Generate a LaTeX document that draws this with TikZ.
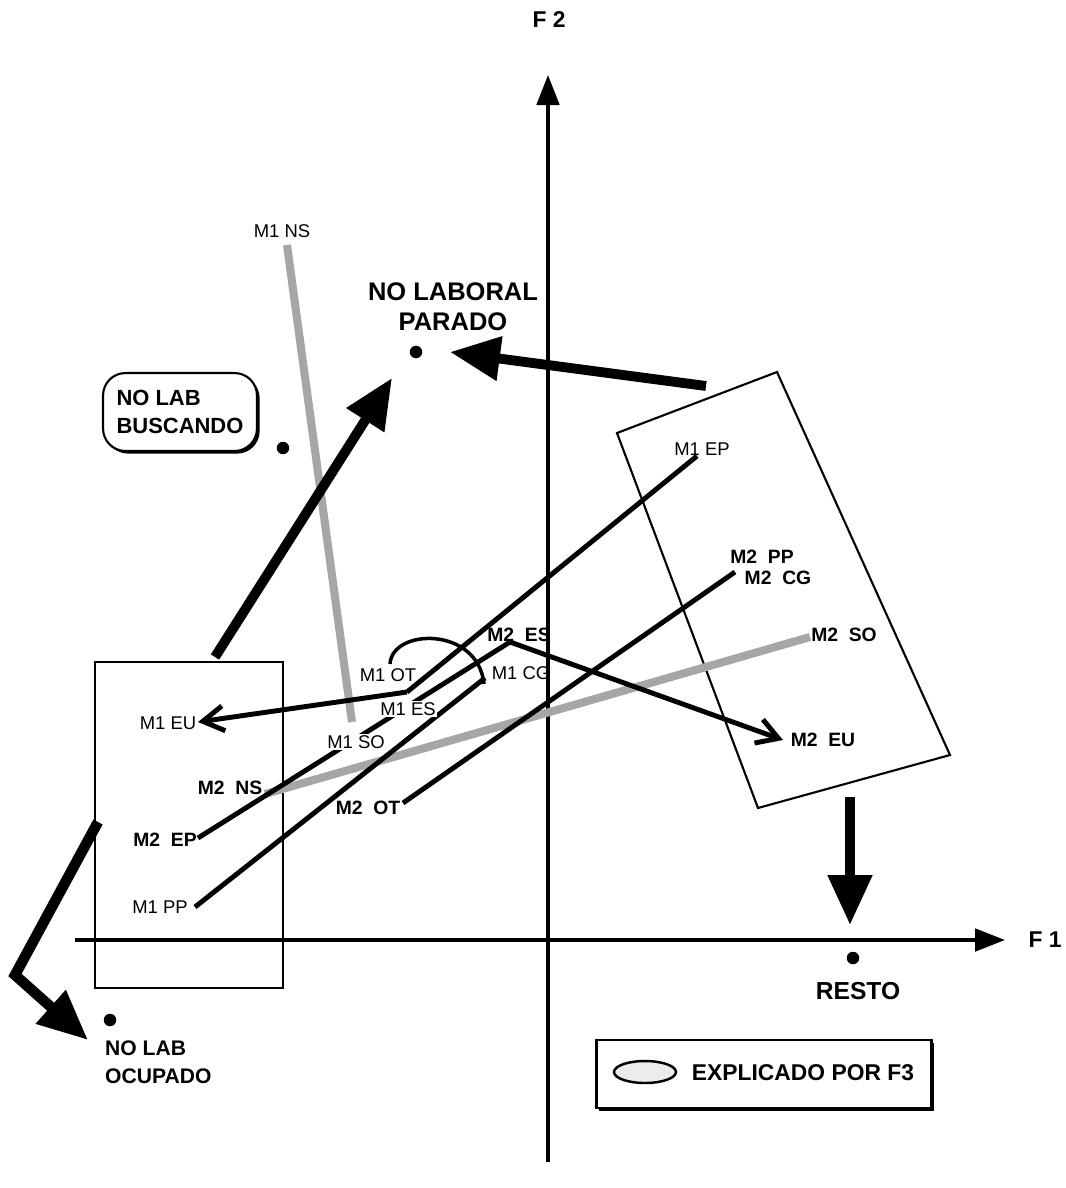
\documentclass[tikz,border=0pt]{standalone}
\usepackage{fontspec}
\setmainfont{Liberation Sans}
\usetikzlibrary{arrows.meta,shapes.geometric,shadows}

\tikzset{
  mlab/.style={font=\fontsize{10.5}{12}\selectfont, inner sep=1pt},
  mlabb/.style={font=\fontsize{11}{12}\selectfont\bfseries, inner sep=1pt},
  biglab/.style={font=\fontsize{14.5}{17}\selectfont\bfseries, align=center},
  smlab/.style={font=\fontsize{12.5}{16}\selectfont\bfseries, align=left},
  axlab/.style={font=\fontsize{13}{15}\selectfont\bfseries},
  dot/.style={circle, fill, inner sep=0pt, minimum size=0.25cm},
  trace/.style={line width=2.8pt},
  f3trace/.style={line width=4.6pt, gray!70},
  frame/.style={line width=1.2pt},
  move/.style={line width=5.6pt, -{Triangle[length=1cm,width=0.85cm]}},
  axis/.style={line width=2pt, -{Triangle[length=0.6cm,width=0.45cm]}},
  barb/.style={trace, -{Straight Barb[length=0.42cm,width=0.5cm]}}
}

\begin{document}
\begin{tikzpicture}[x=0.02cm,y=-0.02cm]
		\useasboundingbox (0,0) rectangle (1066,1188);
		
		% marcos
		\draw [frame] (95,662) rectangle (283,988);
		\draw [frame] (617,433) -- (777,372) -- (950,755) -- (758,808) -- cycle;
		
		% ejes
		\coordinate (Ob) at (548,1162);
		\coordinate (Ot) at (548,75);
		\coordinate (Ol) at (75,940);
		\coordinate (Or) at (1005,940);
		\draw [axis] (Ob) -- (Ot);
		\draw [axis] (Ol) -- (Or);
		\node (F2) at (549,20) [axlab] {F 2};
		\node (F1) at (1045,940) [axlab] {F 1};
		
		% puntos de las modalidades
		\coordinate (pNS1) at (287,245);
		\coordinate (pSO1) at (352,722);
		\coordinate (pEP1) at (697,456);
		\coordinate (pOT1) at (407,692);
		\coordinate (pEU1) at (198,722);
		\coordinate (pEP2) at (198,838);
		\coordinate (pNS2) at (265,794);
		\coordinate (pES2) at (510,642);
		\coordinate (pEU2) at (783,740);
		\coordinate (pPP1) at (195,907);
		\coordinate (pCG1) at (485,678);
		\coordinate (pOT2) at (403,803);
		\coordinate (pCG2) at (735,572);
		\coordinate (pSO2) at (810,637);
		\coordinate (arcA) at (390,664);
		\coordinate (arcB) at (484,684);
		
		% trayectorias explicadas por F3
		\draw [f3trace] (pNS1) -- (pSO1);
		\draw [f3trace] (pNS2) -- (pSO2);
		
		% trayectorias
		\draw [trace] (pEP1) -- (pOT1);
		\draw [barb] (pOT1) -- (pEU1);
		\draw [trace] (pEP2) -- (pES2);
		\draw [barb] (pES2) -- (pEU2);
		\draw [trace] (pPP1) -- (pCG1);
		\draw [trace] (pOT2) -- (pCG2);
		\draw [line width=2pt] (arcA) .. controls (392,628) and (478,626) .. (arcB);
		
		\node (lNS1) at (282,231) [mlab] {M1 NS};
		\node (lEP1) at (702,449) [mlab] {M1 EP};
		\node (lOT1) at (388,675) [mlab] {M1 OT};
		\node (lCG1) at (521,673) [mlab] {M1 CG};
		\node (lES1) at (408,709) [mlab, fill=white] {M1 ES};
		\node (lSO1) at (356,742) [mlab, fill=white] {M1 SO};
		\node (lEU1) at (168,723) [mlab] {M1 EU};
		\node (lPP1) at (160,907) [mlab] {M1 PP};
		\node (lES2) at (519,635) [mlabb] {M2~~ES};
		\node (lPP2) at (762,557) [mlabb] {M2~~PP};
		\node (lCG2) at (778,578) [mlabb] {M2~~CG};
		\node (lSO2) at (844,635) [mlabb] {M2~~SO};
		\node (lEU2) at (823,740) [mlabb] {M2~~EU};
		\node (lNS2) at (230,788) [mlabb] {M2~~NS};
		\node (lEP2) at (165,840) [mlabb] {M2~~EP};
		\node (lOT2) at (368,808) [mlabb] {M2~~OT};
		
		% situaciones
		\node (parado) at (416,352) [dot] {};
		\node (paradoLab) at (453,307) [biglab] {NO LABORAL\\PARADO};
		\node (buscando) at (283,448) [dot] {};
		\node (buscLab) at (180,412) [smlab, draw, line width=1.2pt, fill=white, rounded corners=0.45cm,
		  minimum width=3.08cm, minimum height=1.56cm,
		  drop shadow={shadow xshift=1.5pt, shadow yshift=-1.5pt, opacity=1, fill=black}] {NO LAB\\BUSCANDO};
		\node (resto) at (853,958) [dot] {};
		\node (restoLab) at (858,991) [biglab, font=\fontsize{14}{17}\selectfont\bfseries] {RESTO};
		\node (ocupado) at (110,1020) [dot] {};
		\node (ocupLab) at (99,1062) [smlab, anchor=west, font=\fontsize{12}{16}\selectfont\bfseries] {NO LAB\\OCUPADO};
		
		% movimientos de los grupos
		\coordinate (mR) at (706,386);
		\coordinate (mRt) at (450,352);
		\coordinate (mL) at (215,657);
		\coordinate (mLt) at (392,378);
		\coordinate (mD) at (850,797);
		\coordinate (mDt) at (850,925);
		\coordinate (mB) at (98,822);
		\coordinate (mBc) at (15,975);
		\coordinate (mBt) at (88,1040);
		\draw [move] (mR) -- (mRt);
		\draw [move] (mL) -- (mLt);
		\draw [move] (mD) -- (mDt);
		\draw [move, line width=6pt] (mB) -- (mBc) -- (mBt);
		
		% leyenda
		\node (leyenda) at (764,1074) [draw, line width=1.2pt, fill=white, minimum width=6.7cm, minimum height=1.36cm,
		  drop shadow={shadow xshift=1.5pt, shadow yshift=-1.5pt, opacity=1, fill=black}] {};
		\node (elipse) at (645,1072) [ellipse, draw, line width=1.4pt, fill=gray!15, minimum width=1.24cm, minimum height=0.44cm] {};
		\node (explica) at (803,1073) [font=\fontsize{13}{15}\selectfont\bfseries] {EXPLICADO POR F3};
\end{tikzpicture}
\end{document}
